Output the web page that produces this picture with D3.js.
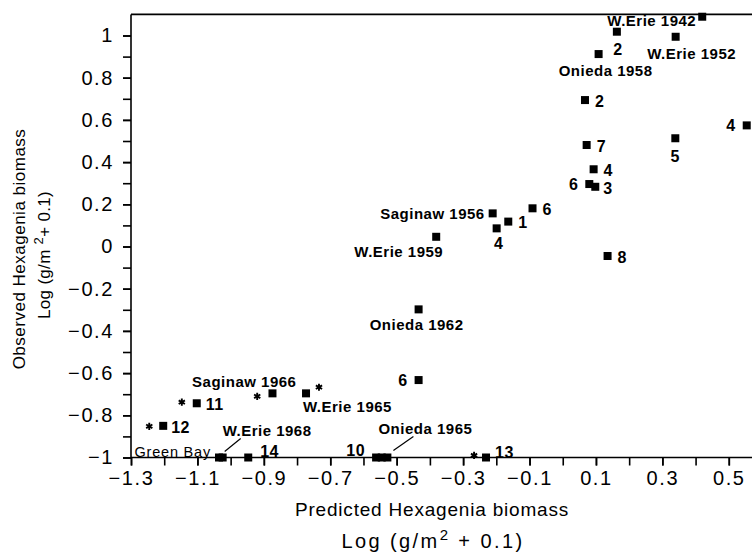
<!DOCTYPE html>
<html>
<head>
<meta charset="utf-8">
<script src="https://cdn.jsdelivr.net/npm/d3@7"></script>
<style>
  body { margin: 0; background: #fff; }
  svg { display: block; overflow: hidden; }
  .tick text { font-family: "Liberation Sans", Arial, sans-serif; font-size: 20px; letter-spacing: 1.6px; fill: #000; }
  .note { font-family: "Liberation Sans", Arial, sans-serif; font-size: 15px; font-weight: bold; letter-spacing: 0.5px; fill: #000; }
  .num { font-size: 16px; }
  .title { font-family: "Liberation Sans", Arial, sans-serif; font-size: 19px; letter-spacing: 0.8px; fill: #000; }
</style>
</head>
<body>
<div id="chart"></div>
<script>
// chart size
const W = 752, H = 553;

// data
const predicted = [0.42, 0.163, 0.34, 0.108, 0.067, 0.554, 0.339, 0.072, 0.093, 0.080,
  0.098, -0.091, -0.164, 0.135, -0.211, -0.199, -0.381, -0.434, -0.434, -0.874,
  -0.773, -1.102, -1.203, -1.035, -1.024, -0.947, -0.562, -0.545, -0.528, -0.231];
const observed = [1.089, 1.018, 0.994, 0.912, 0.694, 0.574, 0.513, 0.481, 0.366, 0.296,
  0.283, 0.181, 0.118, -0.045, 0.157, 0.086, 0.046, -0.298, -0.633, -0.696,
  -0.696, -0.743, -0.85, -1, -1, -1, -1, -1, -1, -1];
const pointLabels = ["W.Erie 1942", "2", "W.Erie 1952", "Onieda 1958", "2", "4", "5", "7", "4", "6",
  "3", "6", "1", "8", "Saginaw 1956", "4", "W.Erie 1959", "Onieda 1962", "6", "Saginaw 1966",
  "W.Erie 1965", "11", "12", "Green Bay", "W.Erie 1968", "14", "10", "", "Onieda 1965", "13"];

const starPredicted = [-0.92, -0.734, -1.147, -1.245, -0.267];
const starObserved = [-0.71, -0.667, -0.738, -0.852, -0.99];

const xTicks = [-1.3, -1.1, -0.9, -0.7, -0.5, -0.3, -0.1, 0.1, 0.3, 0.5];
const xTickLabels = ["−1.3", "−1.1", "−0.9", "−0.7", "−0.5", "−0.3", "−0.1", "0.1", "0.3", "0.5"];
const yTicks = [-1, -0.8, -0.6, -0.4, -0.2, 0, 0.2, 0.4, 0.6, 0.8, 1];
const yTickLabels = ["−1", "−0.8", "−0.6", "−0.4", "−0.2", "0", "0.2", "0.4", "0.6", "0.8", "1"];

// where each label sits relative to its square: [anchor, dx, dy, leader]
const labelPlace = [
  ["end", -6, 4], ["middle", 1, 18], ["middle", 16, 17], ["middle", 7, 17], ["start", 10, 1],
  ["end", -11, 0], ["middle", 0, 18], ["start", 10, 1], ["start", 10, 1], ["end", -11, 0],
  ["start", 8, 1], ["start", 10, 1], ["start", 10, 1], ["start", 10, 1], ["end", -8, 0],
  ["middle", 2, 15], ["end", 7, 15], ["middle", -2, 15], ["end", -11, 0], ["end", 24, -12],
  ["start", -3, 13], ["start", 9, 1], ["start", 8, 1], ["end", -8, -6], ["start", 0, -27, [2, -6, 18, -19]],
  ["start", 12, -6], ["end", -11, -7], ["start", 0, 0], ["middle", 38, -29, [6, -7, 26, -21]], ["start", 9, -5]
];

const svg = d3.select("#chart").append("svg")
  .attr("width", W)
  .attr("height", H);

const x = d3.scaleLinear().domain([-1.3, 0.6]).range([131, 762]);
const y = d3.scaleLinear().domain([-1, 1.1]).range([457.5, 14.4]);

// minor ticks every 0.1
const xMinor = d3.range(-13, 7).map(d => d / 10);
const yMinor = d3.range(-10, 11).map(d => d / 10);

svg.append("g")
  .attr("transform", `translate(0,${y(-1)})`)
  .call(d3.axisBottom(x).tickValues(xMinor).tickSize(8).tickFormat(""))
  .call(g => g.select(".domain").remove());

const xAxis = svg.append("g")
  .attr("transform", `translate(0,${y(-1)})`)
  .call(d3.axisBottom(x).tickValues(xTicks).tickSize(8).tickPadding(5)
    .tickFormat((d, i) => xTickLabels[i]));
xAxis.select(".domain").attr("d", `M${x(-1.3)},0H${W + 20}`);

svg.append("g")
  .attr("transform", `translate(${x(-1.3)},0)`)
  .call(d3.axisLeft(y).tickValues(yMinor).tickSize(8).tickFormat(""))
  .call(g => g.select(".domain").remove());

const yAxis = svg.append("g")
  .attr("transform", `translate(${x(-1.3)},0)`)
  .call(d3.axisLeft(y).tickValues(yTicks).tickSize(8).tickPadding(9)
    .tickFormat((d, i) => yTickLabels[i]));
yAxis.select(".domain").attr("d", `M0,${y(-1)}V${y(1.1)}`);

svg.selectAll(".domain, .tick line").attr("stroke", "#000").attr("stroke-width", 1.6);

// top frame line
svg.append("line")
  .attr("x1", x(-1.3)).attr("x2", W + 20)
  .attr("y1", y(1.1)).attr("y2", y(1.1))
  .attr("stroke", "#000").attr("stroke-width", 1.8);

// squares
const sq = 8;
svg.append("g").selectAll("rect")
  .data(predicted)
  .join("rect")
  .attr("x", d => x(d) - sq / 2)
  .attr("y", (d, i) => y(observed[i]) - sq / 2)
  .attr("width", sq)
  .attr("height", sq)
  .attr("fill", "#000");

// stars
svg.append("g").selectAll("path")
  .data(starPredicted)
  .join("path")
  .attr("transform", (d, i) => `translate(${x(d)},${y(starObserved[i])})`)
  .attr("d", d3.symbol(d3.symbolAsterisk, 36))
  .attr("stroke", "#000")
  .attr("stroke-width", 1.9);

// labels
pointLabels.forEach((lab, i) => {
  if (!lab) return;
  const p = labelPlace[i];
  const px = x(predicted[i]), py = y(observed[i]);
  if (p[3]) {
    const l = p[3];
    svg.append("line")
      .attr("x1", px + l[0]).attr("y1", py + l[1])
      .attr("x2", px + l[2]).attr("y2", py + l[3])
      .attr("stroke", "#000").attr("stroke-width", 1.2);
  }
  const t = svg.append("text")
    .attr("class", /^\d+$/.test(lab) ? "note num" : "note")
    .attr("x", px + p[1])
    .attr("y", py + p[2])
    .attr("dy", "0.36em")
    .attr("text-anchor", p[0])
    .text(lab);
  if (lab === "Green Bay") {
    t.style("font-weight", "normal").style("font-size", "14.5px").style("letter-spacing", "0.8px");
  }
});

// axis titles
svg.append("text").attr("class", "title")
  .attr("x", 432).attr("y", 516)
  .attr("text-anchor", "middle")
  .text("Predicted Hexagenia biomass");

const xt2 = svg.append("text").attr("class", "title")
  .attr("x", 433).attr("y", 548)
  .attr("text-anchor", "middle")
  .style("font-size", "20px")
  .style("letter-spacing", "2.4px");
xt2.append("tspan").text("Log (g/m");
xt2.append("tspan").attr("dy", -8).style("font-size", "15px").text("2");
xt2.append("tspan").attr("dy", 8).text("  + 0.1)");

svg.append("text").attr("class", "title")
  .attr("transform", "translate(25,249) rotate(-90)")
  .attr("text-anchor", "middle")
  .style("font-size", "17px")
  .style("letter-spacing", "0.5px")
  .text("Observed Hexagenia biomass");

const yt2 = svg.append("text").attr("class", "title")
  .attr("transform", "translate(50,255) rotate(-90)")
  .attr("text-anchor", "middle")
  .style("font-size", "17px")
  .style("letter-spacing", "0.3px");
yt2.append("tspan").text("Log (g/m ");
yt2.append("tspan").attr("dy", -7).style("font-size", "13px").text("2");
yt2.append("tspan").attr("dy", 7).text("+ 0.1)");
</script>
</body>
</html>
